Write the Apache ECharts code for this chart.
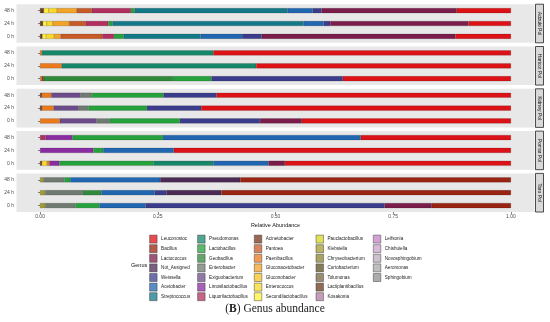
<!DOCTYPE html>
<html><head><meta charset="utf-8">
<script src="https://cdn.jsdelivr.net/npm/echarts@6/dist/echarts.min.js"></script>
<style>html,body{margin:0;padding:0;background:#fff}#c{width:550px;height:322px}</style>
</head><body><div id="c"></div>
<script>
// ---------- data ----------
const panels = ['Adzuki Pol', 'Haricot Pol', 'Kidney Pol', 'Pomar Pol', 'Taro Pol'];
const times = ['0 h', '24 h', '48 h'];
const xTicks = [0, 0.25, 0.5, 0.75, 1];
// legend order (first level drawn at the right end of each bar)
const genera = ['Leuconostoc','Bacillus','Lactococcus','Not_Assigned','Weissella','Acetobacter','Streptococcus',
  'Pseudomonas','Lactobacillus','Geobacillus','Enterobacter','Exiguobacterium','Limosilactobacillus','Liquorilactobacillus',
  'Acinetobacter','Pantoea','Paenibacillus','Gluconacetobacter','Gluconobacter','Enterococcus','Secundilactobacillus',
  'Pauclactobacillus','Klebsiella','Chryseobacterium','Curtobacterium','Tolumonas','Lactiplantibacillus','Kosakonia',
  'Leifsonia','Chishuiella','Novosphingobium','Aeromonas','Sphingobium'];
// relative abundance per sample, order:
// Adzuki 0h,24h,48h | Haricot 0h,24h,48h | Kidney 0h,24h,48h | Pomar 0h,24h,48h | Taro 0h,24h,48h
const Leuconostoc          = [0.118,0.090,0.115, 0.357,0.541,0.632, 0.444,0.658,0.625, 0.480,0.716,0.319, 0,0,0];
const Bacillus             = [0,0,0, 0,0,0, 0,0,0, 0,0,0, 0.168,0.615,0.575];
const Lactococcus          = [0.411,0.294,0.287, 0,0,0, 0.089,0,0, 0.035,0,0, 0.100,0,0];
const Not_Assigned         = [0,0,0, 0,0,0, 0,0,0, 0,0,0, 0,0.117,0.170];
const Weissella            = [0.042,0.014,0.019, 0.279,0,0, 0.170,0.115,0.113, 0,0,0, 0.508,0.025,0];
const Acetobacter          = [0.088,0.042,0.053, 0,0,0, 0,0,0, 0.117,0.150,0.420, 0.098,0.113,0.191];
const Streptococcus        = [0.163,0.406,0.325, 0,0,0, 0,0,0, 0,0,0, 0,0,0];
const Pseudomonas          = [0,0,0, 0,0.413,0.364, 0,0,0, 0.127,0,0, 0,0,0];
const Lactobacillus        = [0.021,0.009,0.008, 0.082,0,0, 0.149,0.124,0.153, 0.200,0.021,0.192, 0.051,0,0.012];
const Geobacillus          = [0,0,0, 0.274,0,0, 0,0,0, 0,0,0, 0,0.039,0];
const Enterobacter         = [0,0,0, 0,0,0, 0.028,0.021,0.023, 0,0,0, 0.064,0.080,0.045];
const Exiguobacterium      = [0,0,0, 0,0,0, 0.078,0.053,0.062, 0,0,0, 0,0,0];
const Limosilactobacillus  = [0,0,0, 0,0,0, 0,0,0, 0.021,0.113,0.057, 0,0,0];
const Liquorilactobacillus = [0.025,0.048,0.083, 0,0,0, 0,0,0, 0,0,0.012, 0,0,0];
const Acinetobacter        = [0,0,0, 0.004,0,0, 0,0,0, 0,0,0, 0,0,0];
const Pantoea              = [0.088,0.035,0.032, 0,0,0, 0,0,0, 0,0,0, 0,0,0];
const Paenibacillus        = [0,0,0, 0.004,0.046,0.004, 0.042,0.025,0.020, 0.005,0,0, 0,0,0];
const Gluconacetobacter    = [0.014,0.035,0.042, 0,0,0, 0,0,0, 0,0,0, 0,0,0];
const Enterococcus         = [0.017,0.013,0.018, 0,0,0, 0,0,0, 0.011,0,0, 0,0,0];
const Secundilactobacillus = [0.008,0.008,0.010, 0,0,0, 0,0,0, 0,0,0, 0,0,0];
const Klebsiella           = [0,0,0, 0,0,0, 0,0,0, 0,0,0, 0.011,0.011,0.007];
const Lactiplantibacillus  = [0.005,0.006,0.008, 0,0,0, 0,0.004,0.004, 0.004,0,0, 0,0,0];
const zeros = [0,0,0, 0,0,0, 0,0,0, 0,0,0, 0,0,0];

const values = {Leuconostoc, Bacillus, Lactococcus, Not_Assigned, Weissella, Acetobacter, Streptococcus,
  Pseudomonas, Lactobacillus, Geobacillus, Enterobacter, Exiguobacterium, Limosilactobacillus, Liquorilactobacillus,
  Acinetobacter, Pantoea, Paenibacillus, Gluconacetobacter, Enterococcus, Secundilactobacillus,
  Klebsiella, Lactiplantibacillus};

const palette = {
  Leuconostoc:'#dd1216', Bacillus:'#9a2412', Lactococcus:'#7b1d4b', Not_Assigned:'#4b2a55', Weissella:'#3b3d8c',
  Acetobacter:'#2166b0', Streptococcus:'#137888', Pseudomonas:'#17876c', Lactobacillus:'#25a23c', Geobacillus:'#2f8a3c',
  Enterobacter:'#6f7a70', Exiguobacterium:'#6c4c8a', Limosilactobacillus:'#8a2ca2', Liquorilactobacillus:'#b1305f',
  Acinetobacter:'#7a3418', Pantoea:'#c85a28', Paenibacillus:'#eb7a1c', Gluconacetobacter:'#f3a326', Gluconobacter:'#f6c324',
  Enterococcus:'#fbd92a', Secundilactobacillus:'#fff23a', Pauclactobacillus:'#d6d624', Klebsiella:'#a39b30',
  Chryseobacterium:'#8c8530', Curtobacterium:'#5c5222', Tolumonas:'#7a6442', Lactiplantibacillus:'#6e3a1e',
  Kosakonia:'#b07ca2', Leifsonia:'#c483c4', Chishuiella:'#cba2cb', Novosphingobium:'#b9abb9', Aeromonas:'#a8a8a8',
  Sphingobium:'#8f8f8f'
};

// ---------- layout ----------
const FONT = 'Liberation Sans, Arial, sans-serif';
const panelTop = i => 4.2 + i * 42.3;
const panelH = 38.6;
const gridL = 16.5, gridR = 15.5;

const grids = panels.map((p, i) => ({
  left: gridL, right: gridR, top: panelTop(i), height: panelH,
  show: true, backgroundColor: '#e8e8e8', borderWidth: 0
}));

const xAxes = panels.map((p, i) => ({
  gridIndex: i, type: 'value', min: -0.05, max: 1.05, show: i === panels.length - 1,
  splitLine: {show: false}, axisLine: {show: false},
  axisTick: {show: true, customValues: xTicks, length: 2, lineStyle: {color: '#333', width: 0.6}},
  axisLabel: {customValues: xTicks, formatter: v => v.toFixed(2), fontSize: 5, color: '#4d4d4d', margin: 2.5, fontFamily: FONT},
  name: i === panels.length - 1 ? 'Relative Abundance' : '',
  nameLocation: 'middle', nameGap: 10,
  nameTextStyle: {fontSize: 5.5, color: '#111', fontFamily: FONT}
}));

const yAxes = panels.map((p, i) => ({
  gridIndex: i, type: 'category', data: times,
  axisLine: {show: false},
  axisTick: {show: true, length: 2, alignWithLabel: true, lineStyle: {color: '#333', width: 0.6}},
  axisLabel: {fontSize: 5, color: '#4d4d4d', margin: 2.5, fontFamily: FONT},
  splitLine: {show: false}
}));

const series = [];
panels.forEach((p, i) => {
  genera.slice().reverse().forEach(g => {
    const arr = values[g] || zeros;
    series.push({
      type: 'bar', name: g, xAxisIndex: i, yAxisIndex: i, stack: 'panel' + i,
      barWidth: 5, silent: true,
      itemStyle: {color: palette[g], borderColor: 'rgba(20,20,20,0.55)', borderWidth: 0.3},
      data: times.map((t, j) => { const v = arr[i * 3 + j]; return v > 0 ? v : null; })
    });
  });
});

const legendCols = [genera.slice(0, 7), genera.slice(7, 14), genera.slice(14, 21), genera.slice(21, 28), genera.slice(28)];
const legendLeft = [149.3, 197.3, 254, 315.7, 373];
const legends = legendCols.map((col, k) => ({
  orient: 'vertical', left: legendLeft[k], top: 234.8, padding: 0,
  itemWidth: 7.5, itemHeight: 8, itemGap: 1, icon: 'rect', selectedMode: false,
  data: col,
  itemStyle: {borderColor: '#333', borderWidth: 0.6, opacity: 0.75},
  textStyle: {fontSize: 4.6, color: '#222', fontFamily: FONT, padding: [0, 0, 0, -1]}
}));

const strips = [];
panels.forEach((p, i) => {
  const top = panelTop(i);
  strips.push({type: 'rect', z: 10, shape: {x: 535.5, y: top, width: 8, height: panelH},
    style: {fill: '#d9d9d9', stroke: '#222', lineWidth: 0.8}});
  strips.push({type: 'text', z: 11, x: 539.5, y: top + panelH / 2, rotation: -Math.PI / 2,
    style: {text: p, fontSize: 5, fontFamily: FONT, fill: '#1a1a1a', align: 'center', verticalAlign: 'middle',
      textAlign: 'center', textVerticalAlign: 'middle'}});
});

const chart = echarts.init(document.getElementById('c'), null, {renderer: 'canvas'});
chart.setOption({
  animation: false,
  backgroundColor: '#ffffff',
  title: [
    {text: '({b|B}) Genus abundance', left: 'center', top: 303, padding: 0,
      textStyle: {fontFamily: 'Liberation Serif, serif', fontSize: 11.5, fontWeight: 'normal', color: '#222',
        rich: {b: {fontFamily: 'Liberation Serif, serif', fontSize: 11.5, fontWeight: 'bold', color: '#222'}}}},
    {text: 'Genus', left: 131, top: 262.5, padding: 0,
      textStyle: {fontFamily: FONT, fontSize: 5.5, fontWeight: 'normal', color: '#111'}}
  ],
  grid: grids, xAxis: xAxes, yAxis: yAxes, series: series,
  legend: legends,
  graphic: strips
});
</script>
</body></html>
